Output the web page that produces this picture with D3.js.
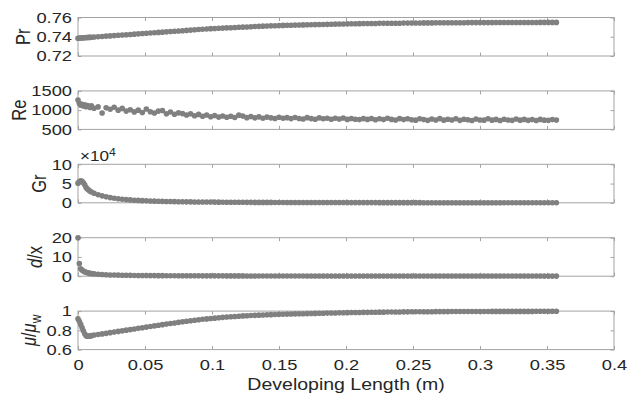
<!DOCTYPE html>
<html>
<head>
<meta charset="utf-8">
<script src="https://cdn.jsdelivr.net/npm/d3@7"></script>
<style>
  html, body { margin: 0; padding: 0; background: #fff; }
  svg { display: block; }
</style>
</head>
<body>
<div id="chart"></div>
<script>
// sampled positions along the pipe (m)
const developingLength = [
  0, 0.001, 0.002, 0.003, 0.004, 0.005, 0.006, 0.007, 0.008, 0.009,
  0.010, 0.012, 0.015, 0.018, 0.021, 0.024, 0.027, 0.030, 0.033, 0.036,
  0.039, 0.042, 0.045, 0.048, 0.051, 0.054, 0.057, 0.060, 0.063, 0.066,
  0.069, 0.072, 0.075, 0.078, 0.081, 0.084, 0.087, 0.090, 0.093, 0.096,
  0.099, 0.102, 0.105, 0.108, 0.111, 0.114, 0.117, 0.120, 0.123, 0.126,
  0.129, 0.132, 0.135, 0.138, 0.141, 0.144, 0.147, 0.150, 0.153, 0.156,
  0.159, 0.162, 0.165, 0.168, 0.171, 0.174, 0.177, 0.180, 0.183, 0.186,
  0.189, 0.192, 0.195, 0.198, 0.201, 0.204, 0.207, 0.210, 0.213, 0.216,
  0.219, 0.222, 0.225, 0.228, 0.231, 0.234, 0.237, 0.240, 0.243, 0.246,
  0.249, 0.252, 0.255, 0.258, 0.261, 0.264, 0.267, 0.270, 0.273, 0.276,
  0.279, 0.282, 0.285, 0.288, 0.291, 0.294, 0.297, 0.300, 0.303, 0.306,
  0.309, 0.312, 0.315, 0.318, 0.321, 0.324, 0.327, 0.330, 0.333, 0.336,
  0.339, 0.342, 0.345, 0.348, 0.351, 0.354, 0.357
]

const prandtl = [
  0.7385, 0.7386, 0.7387, 0.7388, 0.7389, 0.7390, 0.7391, 0.7392, 0.7393, 0.7394,
  0.7395, 0.7397, 0.7400, 0.7403, 0.7406, 0.7409, 0.7412, 0.7415, 0.7418, 0.7421,
  0.7424, 0.7427, 0.7430, 0.7433, 0.7436, 0.7439, 0.7442, 0.7445, 0.7448, 0.7451,
  0.7454, 0.7457, 0.7460, 0.7463, 0.7466, 0.7469, 0.7472, 0.7475, 0.7478, 0.7481,
  0.7484, 0.7486, 0.7488, 0.7490, 0.7492, 0.7494, 0.7496, 0.7498, 0.7500, 0.7502,
  0.7504, 0.7506, 0.7508, 0.7510, 0.7512, 0.7513, 0.7515, 0.7516, 0.7518, 0.7519,
  0.7520, 0.7521, 0.7522, 0.7523, 0.7524, 0.7525, 0.7526, 0.7527, 0.7528, 0.7529,
  0.7530, 0.7531, 0.7532, 0.7533, 0.7534, 0.7535, 0.7535, 0.7536, 0.7537, 0.7537,
  0.7538, 0.7538, 0.7539, 0.7539, 0.7540, 0.7540, 0.7541, 0.7541, 0.7542, 0.7542,
  0.7543, 0.7543, 0.7543, 0.7544, 0.7544, 0.7544, 0.7545, 0.7545, 0.7545, 0.7545,
  0.7546, 0.7546, 0.7546, 0.7546, 0.7547, 0.7547, 0.7547, 0.7547, 0.7547, 0.7547,
  0.7547, 0.7548, 0.7548, 0.7548, 0.7548, 0.7548, 0.7548, 0.7548, 0.7548, 0.7548,
  0.7548, 0.7548, 0.7549, 0.7549, 0.7549, 0.7549, 0.7549
]

const reynolds = [
  1265, 1180, 1130, 1150, 1110, 1140, 1090, 1120, 1100, 1070,
  1110, 1050, 1085, 925, 1060, 1025, 1075, 1000, 1045, 975,
  1010, 955, 1000, 940, 1030, 960, 925, 975, 990, 905,
  950, 895, 930, 910, 875, 905, 855, 890, 840, 875,
  830, 860, 820, 850, 815, 840, 810, 870, 845, 805,
  835, 800, 825, 790, 820, 800, 785, 815, 790, 805,
  780, 810, 785, 770, 805, 780, 765, 800, 775, 790,
  765, 790, 770, 795, 760, 785, 765, 755, 780, 760,
  785, 750, 775, 755, 790, 760, 745, 780, 755, 775,
  750, 740, 775, 755, 735, 770, 745, 780, 740, 765,
  745, 775, 735, 765, 750, 730, 770, 745, 740, 775,
  740, 760, 730, 765, 745, 735, 770, 740, 760, 735,
  755, 730, 760, 740, 735, 755, 745
]

const grashof = [
  51000, 55000, 57000, 56000, 52000, 47000, 40000, 36000, 33000, 30000,
  28000, 25000, 21000, 18000, 15500, 13500, 12000, 10500, 9300, 8300,
  7500, 6800, 6200, 5600, 5100, 4700, 4300, 4000, 3700, 3400,
  3200, 3000, 2800, 2600, 2500, 2300, 2200, 2100, 2000, 1900,
  1900, 1800, 1700, 1600, 1500, 1500, 1400, 1300, 1300, 1200,
  1200, 1100, 1100, 1000, 1000, 1000, 900, 900, 900, 800,
  800, 800, 800, 700, 700, 700, 700, 700, 600, 600,
  600, 600, 600, 600, 500, 500, 500, 500, 500, 500,
  500, 500, 400, 400, 400, 400, 400, 400, 400, 400,
  400, 400, 400, 300, 300, 300, 300, 300, 300, 300,
  300, 300, 300, 300, 300, 300, 300, 300, 300, 300,
  300, 300, 300, 200, 200, 200, 200, 200, 200, 200,
  200, 200, 200, 200, 200, 200, 200
]

const diameterRatio = [
  20, 6.6, 3.9, 3.2, 2.7, 2.3, 2.0, 1.8, 1.6, 1.45,
  1.35, 1.2, 1.0, 0.85, 0.75, 0.66, 0.6, 0.55, 0.5, 0.46,
  0.43, 0.40, 0.38, 0.36, 0.34, 0.32, 0.31, 0.29, 0.28, 0.27,
  0.26, 0.25, 0.24, 0.23, 0.22, 0.21, 0.21, 0.20, 0.19, 0.19,
  0.18, 0.18, 0.17, 0.17, 0.16, 0.16, 0.15, 0.15, 0.15, 0.14,
  0.14, 0.14, 0.13, 0.13, 0.13, 0.12, 0.12, 0.12, 0.12, 0.11,
  0.11, 0.11, 0.11, 0.11, 0.10, 0.10, 0.10, 0.10, 0.10, 0.10,
  0.10, 0.10, 0.10, 0.09, 0.09, 0.09, 0.09, 0.09, 0.09, 0.09,
  0.09, 0.09, 0.09, 0.09, 0.08, 0.08, 0.08, 0.08, 0.08, 0.08,
  0.08, 0.08, 0.08, 0.08, 0.08, 0.08, 0.08, 0.08, 0.08, 0.08,
  0.08, 0.08, 0.07, 0.07, 0.07, 0.07, 0.07, 0.07, 0.07, 0.07,
  0.07, 0.07, 0.07, 0.07, 0.07, 0.07, 0.07, 0.07, 0.07, 0.07,
  0.07, 0.07, 0.07, 0.06, 0.06, 0.06, 0.06
]

const viscosityRatio = [
  0.920, 0.895, 0.862, 0.830, 0.795, 0.765, 0.745, 0.738, 0.740, 0.742,
  0.745, 0.752, 0.757, 0.763, 0.769, 0.776, 0.782, 0.789, 0.795, 0.802,
  0.808, 0.814, 0.821, 0.827, 0.834, 0.840, 0.846, 0.853, 0.859, 0.865,
  0.871, 0.877, 0.883, 0.889, 0.894, 0.900, 0.905, 0.910, 0.915, 0.919,
  0.923, 0.927, 0.931, 0.935, 0.938, 0.941, 0.944, 0.947, 0.950, 0.952,
  0.954, 0.956, 0.958, 0.960, 0.962, 0.963, 0.965, 0.966, 0.968, 0.969,
  0.970, 0.971, 0.972, 0.973, 0.974, 0.975, 0.976, 0.977, 0.978, 0.979,
  0.980, 0.981, 0.982, 0.983, 0.984, 0.985, 0.985, 0.986, 0.987, 0.987,
  0.988, 0.988, 0.989, 0.989, 0.990, 0.990, 0.991, 0.991, 0.992, 0.992,
  0.993, 0.993, 0.993, 0.994, 0.994, 0.994, 0.995, 0.995, 0.995, 0.995,
  0.996, 0.996, 0.996, 0.996, 0.996, 0.996, 0.996, 0.996, 0.996, 0.996,
  0.997, 0.997, 0.997, 0.997, 0.997, 0.997, 0.997, 0.997, 0.997, 0.997,
  0.997, 0.998, 0.998, 0.998, 0.998, 0.998, 0.998
]

const xTicks = [0, 0.05, 0.1, 0.15, 0.2, 0.25, 0.3, 0.35, 0.4]
const prTicks = [0.72, 0.74, 0.76]
const reTicks = [500, 1000, 1500]
const grTicks = [0, 50000, 100000]
const dxTicks = [0, 10, 20]
const muTicks = [0.6, 0.8, 1]

const WIDTH = 630
const HEIGHT = 394
const PLOT_LEFT = 78
const PLOT_RIGHT = 614
const PANEL_TOP = 17.5
const PANEL_HEIGHT = 38.5
const PANEL_STEP = 73.4
const STRETCH = 1.22 // the figure was widened, text included
const FONT = "'Liberation Sans', Arial, Helvetica, sans-serif"
const FRAME_COLOR = '#a3a3a3'
const TEXT_COLOR = '#262626'
const DOT_COLOR = '#808080'

const panels = [
  { values: prandtl, ticks: prTicks, format: d3.format('.2f'), labelX: 29.5 },
  { values: reynolds, ticks: reTicks, format: d3.format('d'), labelX: 25.5 },
  { values: grashof, ticks: grTicks, format: d => d / 1e4, labelX: 45.5 },
  { values: diameterRatio, ticks: dxTicks, format: d3.format('d'), labelX: 42 },
  { values: viscosityRatio, ticks: muTicks, format: d3.format('~g'), labelX: 36 }
]

const svg = d3.select('#chart')
  .append('svg')
  .attr('width', WIDTH)
  .attr('height', HEIGHT)

const xScale = d3.scaleLinear()
  .domain([xTicks[0], xTicks[xTicks.length - 1]])
  .range([PLOT_LEFT, PLOT_RIGHT])

function styleAxis (g) {
  g.attr('color', FRAME_COLOR)
    .attr('font-family', FONT)
    .attr('font-size', 15)
  g.select('.domain').remove()
  g.selectAll('text').attr('fill', TEXT_COLOR)
}

panels.forEach((panel, i) => {
  const top = PANEL_TOP + i * PANEL_STEP
  const bottom = top + PANEL_HEIGHT
  const isLast = i === panels.length - 1

  const yScale = d3.scaleLinear()
    .domain([panel.ticks[0], panel.ticks[panel.ticks.length - 1]])
    .range([bottom, top])

  const g = svg.append('g')

  g.append('rect')
    .attr('x', PLOT_LEFT)
    .attr('y', top)
    .attr('width', PLOT_RIGHT - PLOT_LEFT)
    .attr('height', PANEL_HEIGHT)
    .attr('fill', 'none')
    .attr('stroke', FRAME_COLOR)

  // inward ticks on all four sides, like a boxed matlab axes
  g.append('g')
    .attr('transform', `translate(0,${bottom})`)
    .call(d3.axisBottom(xScale).tickValues(xTicks).tickSize(-3.5).tickPadding(10)
      .tickFormat(isLast ? d3.format('~g') : ''))
    .call(styleAxis)
    .selectAll('text')
    .attr('transform', `scale(${STRETCH},1)`)

  g.append('g')
    .attr('transform', `translate(0,${top})`)
    .call(d3.axisTop(xScale).tickValues(xTicks).tickSize(-3.5).tickFormat(''))
    .call(styleAxis)

  g.append('g')
    .attr('transform', `translate(${PLOT_LEFT},0)`)
    .call(d3.axisLeft(yScale).tickValues(panel.ticks).tickSize(-3.5).tickPadding(6)
      .tickFormat(panel.format))
    .call(styleAxis)
    .selectAll('text')
    .attr('transform', `translate(-6,0) scale(${STRETCH},1) translate(6,0)`)

  g.append('g')
    .attr('transform', `translate(${PLOT_RIGHT},0)`)
    .call(d3.axisRight(yScale).tickValues(panel.ticks).tickSize(-3.5).tickFormat(''))
    .call(styleAxis)

  g.append('g')
    .selectAll('circle')
    .data(developingLength)
    .join('circle')
    .attr('cx', d => xScale(d))
    .attr('cy', (d, j) => yScale(panel.values[j]))
    .attr('r', 2.8)
    .attr('fill', DOT_COLOR)

  const label = g.append('text')
    .attr('transform', `translate(${panel.labelX},${(top + bottom) / 2}) rotate(-90) scale(1,${STRETCH})`)
    .attr('text-anchor', 'middle')
    .attr('font-family', FONT)
    .attr('font-size', 16.5)
    .attr('fill', TEXT_COLOR)

  if (i === 0) label.text('Pr')
  if (i === 1) label.text('Re')
  if (i === 2) label.text('Gr')
  if (i === 3) {
    label.append('tspan').attr('font-style', 'italic').text('d')
    label.append('tspan').text('/x')
  }
  if (i === 4) {
    label.append('tspan').attr('font-style', 'italic').text('μ')
    label.append('tspan').text('/')
    label.append('tspan').attr('font-style', 'italic').text('μ')
    label.append('tspan').attr('font-size', 12).attr('dy', 4).text('w')
  }

  if (i === 2) {
    const exp = g.append('text')
      .attr('transform', `translate(80,${top - 3}) scale(${STRETCH},1)`)
      .attr('font-family', FONT)
      .attr('font-size', 14)
      .attr('fill', TEXT_COLOR)
    exp.append('tspan').text('×10')
    exp.append('tspan').attr('font-size', 10).attr('dy', -5).text('4')
  }
})

svg.append('text')
  .attr('transform', `translate(${(PLOT_LEFT + PLOT_RIGHT) / 2},390) scale(${STRETCH},1)`)
  .attr('text-anchor', 'middle')
  .attr('font-family', FONT)
  .attr('font-size', 16)
  .attr('fill', TEXT_COLOR)
  .text('Developing Length (m)')
</script>
</body>
</html>
